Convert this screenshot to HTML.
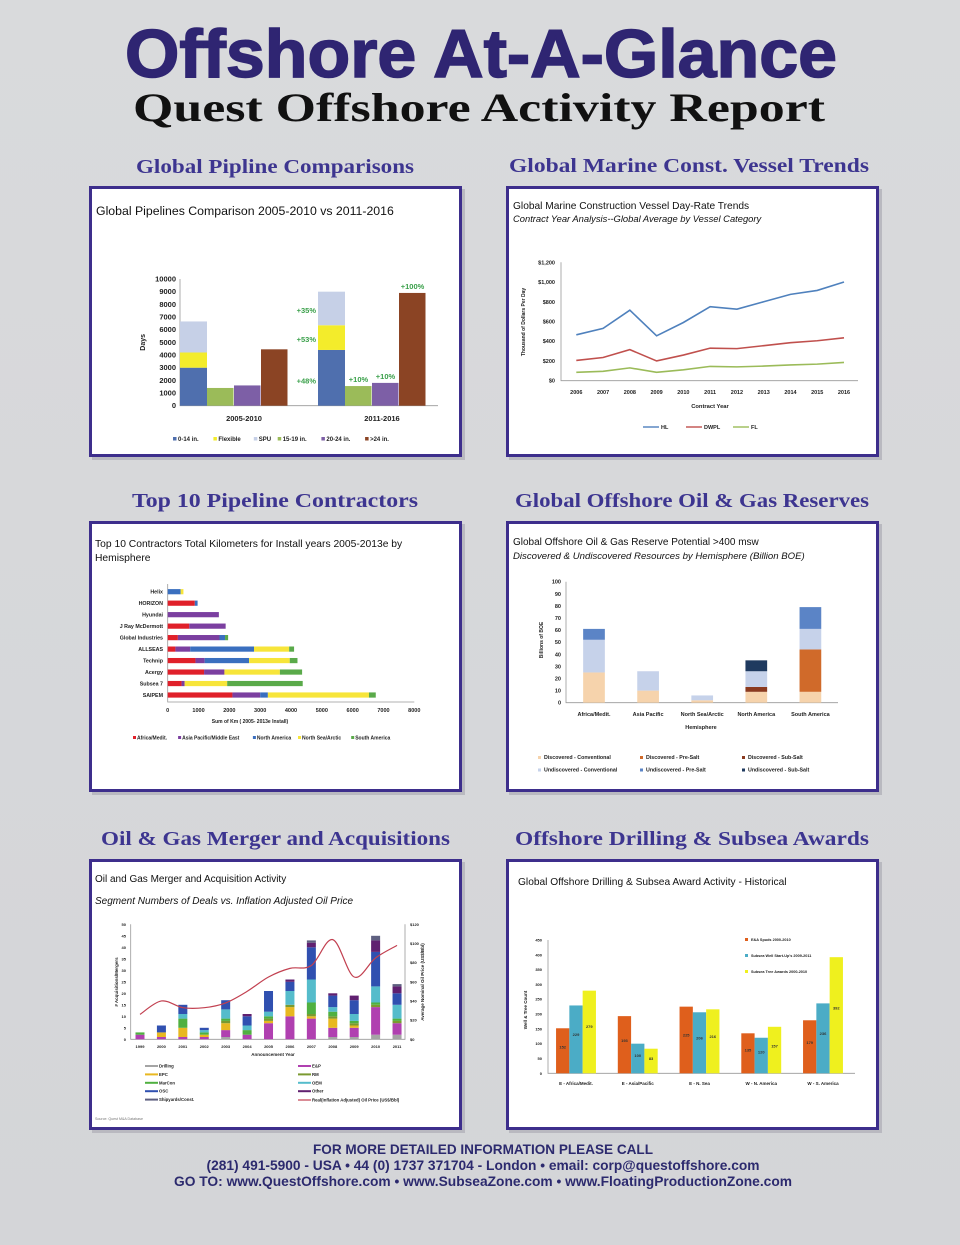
<!DOCTYPE html>
<html><head><meta charset="utf-8"><title>Offshore At-A-Glance</title>
<style>
html,body{margin:0;padding:0;background:#d8d9db;}
svg{display:block;font-family:"Liberation Sans",sans-serif;}
</style></head>
<body>
<svg id="page" width="960" height="1245" viewBox="0 0 960 1245">
<defs>
<linearGradient id="bg" x1="0" y1="0" x2="0" y2="1"><stop offset="0" stop-color="#d9dadc"/><stop offset="1" stop-color="#d4d5d8"/></linearGradient>
</defs>
<rect x="0" y="0" width="960" height="1245" fill="url(#bg)"/>
<text x="481" y="77" text-anchor="middle" font-family="Liberation Sans" font-weight="bold" font-size="68" fill="#2f2572" textLength="712" lengthAdjust="spacingAndGlyphs" stroke="#2f2572" stroke-width="1.5">Offshore At-A-Glance</text>
<text x="479" y="121" text-anchor="middle" font-family="Liberation Serif" font-weight="bold" font-size="40" fill="#111" textLength="692" lengthAdjust="spacingAndGlyphs">Quest Offshore Activity Report</text>

<g font-family="Liberation Serif" font-weight="bold" font-size="20" fill="#3d3590" lengthAdjust="spacingAndGlyphs">
<text x="136" y="173" textLength="278" lengthAdjust="spacingAndGlyphs">Global Pipline Comparisons</text>
<text x="509" y="172" textLength="360" lengthAdjust="spacingAndGlyphs">Global Marine Const. Vessel Trends</text>
<text x="132" y="507" textLength="286" lengthAdjust="spacingAndGlyphs">Top 10 Pipeline Contractors</text>
<text x="515" y="507" textLength="354" lengthAdjust="spacingAndGlyphs">Global Offshore Oil &amp; Gas Reserves</text>
<text x="101" y="845" textLength="349" lengthAdjust="spacingAndGlyphs">Oil &amp; Gas Merger and Acquisitions</text>
<text x="515" y="845" textLength="354" lengthAdjust="spacingAndGlyphs">Offshore Drilling &amp; Subsea Awards</text>
</g>

<g id="panels"></g>
<g id="charts"></g>

<g font-family="Liberation Sans" font-weight="bold" fill="#2c2a6e" text-anchor="middle">
<text x="483" y="1154" font-size="14" textLength="340" lengthAdjust="spacingAndGlyphs">FOR MORE DETAILED INFORMATION PLEASE CALL</text>
<text x="483" y="1170" font-size="14" textLength="553" lengthAdjust="spacingAndGlyphs">(281) 491-5900 - USA  •  44 (0) 1737 371704 - London   •  email: corp@questoffshore.com</text>
<text x="483" y="1186" font-size="14" textLength="618" lengthAdjust="spacingAndGlyphs">GO TO:  www.QuestOffshore.com •  www.SubseaZone.com  •  www.FloatingProductionZone.com</text>
</g>
</svg>
<script>
const NS='http://www.w3.org/2000/svg';
function mk(tag,attrs,parent,text){const e=document.createElementNS(NS,tag);for(const k in attrs)e.setAttribute(k,attrs[k]);if(text!==undefined)e.textContent=text;parent.appendChild(e);return e;}
const panelsG=document.getElementById('panels');
const C=document.getElementById('charts');

/* ---------- panels ---------- */
const panelNames=['pipeline-panel','vessel-panel','contractors-panel','reserves-panel','mergers-panel','awards-panel'];
const panelX=[89,506,89,506,89,506];
const panelY=[186,186,521,521,859,859];
for(let i=0;i<6;i++){
  const sh=mk('rect',{x:panelX[i]+3,y:panelY[i]+3,width:373,height:271,fill:'#b9b9c0'},panelsG);
  
  
  const r=mk('rect',{x:panelX[i]+1.5,y:panelY[i]+1.5,width:370,height:268,fill:'#fff',stroke:'#3d2e8c','stroke-width':3},panelsG);
  
  
}
function txt(parent,x,y,s,size,opts){const a={x:x,y:y,'font-size':size,fill:'#222'};if(opts)for(const k in opts)a[k]=opts[k];return mk('text',a,parent,s);}

/* ---------- Chart 1: pipelines ---------- */
const pipeGroups=['2005-2010','2011-2016'];
const pipeSmall=[3000,4400];
const pipeFlex=[1200,1950];
const pipeSPU=[2450,2650];
const pipe1519=[1400,1550];
const pipe2024=[1600,1800];
const pipeOver24=[4450,8900];
const pipeTicks=[0,1000,2000,3000,4000,5000,6000,7000,8000,9000,10000];
const pipeGrowthStack=['+48%','+53%','+35%'];
const pipeGrowthBars=['+10%','+10%','+100%'];
const pipeLegend=['0-14 in.','Flexible','SPU','15-19 in.','20-24 in.','>24 in.'];
(function(){
  const g=mk('g',{},C);
  
  
  const y=v=>405.7-v*126.7/10000;
  const gx=i=>180+i*138;
  const bw=27;
  const cols=['#4f6fae','#f3ec2b','#c6d0e7','#9bbb59','#7d5fa6','#8b4424'];
  const t=txt(g,96,215,'Global Pipelines Comparison 2005-2010 vs 2011-2016',12.3,{fill:'#111'});
  
  
  pipeTicks.forEach(v=>{
    const l=txt(g,176,y(v)+2.5,String(v),7.5,{'text-anchor':'end','font-weight':'bold'});
    
    
  });
  const ax=mk('path',{d:`M180 ${y(10000)} V${y(0)} H438`,stroke:'#999',fill:'none','stroke-width':0.8},g);
  
  
  const yt=txt(g,0,0,'Days',7,{'font-weight':'bold',transform:`translate(145,${y(5000)}) rotate(-90)`,'text-anchor':'middle'});
  
  
  const stacks=[pipeSmall,pipeFlex,pipeSPU];
  pipeGroups.forEach((name,i)=>{
    let base=0;
    stacks.forEach((s,k)=>{
      const r=mk('rect',{x:gx(i),y:y(base+s[i]),width:bw,height:y(base)-y(base+s[i]),fill:cols[k]},g);
      
      
      if(i===1){
        const lb=txt(g,gx(i)-2,y(base+s[i]*0.45)+3,pipeGrowthStack[k],7.5,{'text-anchor':'end','font-weight':'bold',fill:'#3aa04a'});
        
        
      }
      base+=s[i];
    });
    [pipe1519,pipe2024,pipeOver24].forEach((s,k)=>{
      const bx=gx(i)+bw*(k+1);
      const r=mk('rect',{x:bx,y:y(s[i]),width:bw-0.5,height:y(0)-y(s[i]),fill:cols[k+3]},g);
      
      
      if(i===1){
        const lb=txt(g,bx+bw/2,y(s[i])-4,pipeGrowthBars[k],7.5,{'text-anchor':'middle','font-weight':'bold',fill:'#3aa04a'});
        
        
      }
    });
    const xl=txt(g,gx(i)+64,421,name,7.5,{'text-anchor':'middle','font-weight':'bold'});
    
    
  });
  let lx=173;
  pipeLegend.forEach((n,k)=>{
    const s=mk('rect',{x:lx,y:437,width:3.5,height:3.5,fill:cols[k]},g);
    
    
    const l=txt(g,lx+5,441,n,6,{'font-weight':'bold'});
    
    
    lx+=n.length*3.3+14;
  });
})();

/* ---------- Chart 2: vessel day-rates ---------- */
const vesselYears=['2006','2007','2008','2009','2010','2011','2012','2013','2014','2015','2016'];
const vesselHL=[465,530,715,455,590,750,725,800,875,915,1000];
const vesselDWPL=[205,235,315,200,260,330,325,355,385,405,435];
const vesselFL=[85,95,130,85,110,145,140,148,160,168,185];
const vesselTicks=[0,200,400,600,800,1000,1200];
const vesselTickLabels=['$0','$200','$400','$600','$800','$1,000','$1,200'];
(function(){
  const g=mk('g',{},C);
  
  
  const y=v=>380.7-v*118.4/1200;
  const x=i=>576.3+i*26.77;
  const t=txt(g,513,209,'Global Marine Construction Vessel Day-Rate Trends',10.2,{fill:'#111'});
  
  
  const t2=txt(g,513,222,'Contract Year  Analysis--Global Average by Vessel Category',9.4,{'font-style':'italic',fill:'#111'});
  
  
  const ax=mk('path',{d:`M561 ${y(1200)} V${y(0)} H858`,stroke:'#999',fill:'none','stroke-width':0.8},g);
  
  
  vesselTicks.forEach((v,i)=>{
    const l=txt(g,555,y(v)+2,vesselTickLabels[i],5.5,{'text-anchor':'end','font-weight':'bold'});
    
    
  });
  vesselYears.forEach((yr,i)=>{
    const l=txt(g,x(i),394,yr,5.5,{'text-anchor':'middle','font-weight':'bold'});
    
    
  });
  const xt=txt(g,710,408,'Contract Year',5.8,{'text-anchor':'middle','font-weight':'bold'});
  
  
  const yt=txt(g,0,0,'Thousand of Dollars Per Day',5,{'font-weight':'bold','text-anchor':'middle',transform:'translate(525,322) rotate(-90)'});
  
  
  const series=[[vesselHL,'#4f81bd','HL'],[vesselDWPL,'#c0504d','DWPL'],[vesselFL,'#9bbb59','FL']];
  const lgx=[643,686,733];
  series.forEach((s,k)=>{
    const p=mk('polyline',{points:s[0].map((v,i)=>x(i)+','+y(v)).join(' '),fill:'none',stroke:s[1],'stroke-width':1.6},g);
    
    
    const ll=mk('line',{x1:lgx[k],x2:lgx[k]+16,y1:427,y2:427,stroke:s[1],'stroke-width':1.4},g);
    
    
    const lt=txt(g,lgx[k]+18,429,s[2],5.5,{'font-weight':'bold'});
    
    
  });
})();

/* ---------- Chart 3: top contractors ---------- */
const contractors=['Helix','HORIZON','Hyundai','J Ray McDermott','Global Industries','ALLSEAS','Technip','Acergy','Subsea 7','SAIPEM'];
const kmAfrica=[0,880,0,700,330,250,900,1180,450,2100];
const kmAsiaPac=[0,0,1660,1180,1350,480,300,660,100,900];
const kmNorthAm=[420,90,0,0,180,2070,1440,0,0,250];
const kmNorthSea=[90,0,0,0,0,1140,1320,1800,1380,3280];
const kmSouthAm=[0,0,0,0,100,160,250,720,2450,220];
const kmTicks=[0,1000,2000,3000,4000,5000,6000,7000,8000];
const kmLegend=['Africa/Medit.','Asia Pacific/Middle East','North America','North Sea/Arctic','South America'];
(function(){
  const g=mk('g',{},C);
  
  
  const x=v=>167.7+v*246.6/8000;
  const y=i=>591.7+i*11.48;
  const cols=['#e0202a','#7b3fa0','#3a6fbf','#f7e53a','#5aaa4a'];
  const t=txt(g,95,547,'Top 10 Contractors Total Kilometers for Install years 2005-2013e by',10.3,{fill:'#111'});
  
  
  const t2=txt(g,95,561,'Hemisphere',10.3,{fill:'#111'});
  
  
  const ax=mk('path',{d:`M${x(0)} 584 V702 H${x(8000)}`,stroke:'#999',fill:'none','stroke-width':0.8},g);
  
  
  kmTicks.forEach(v=>{
    const l=txt(g,x(v),712,String(v),5.5,{'text-anchor':'middle','font-weight':'bold'});
    
    
  });
  const series=[kmAfrica,kmAsiaPac,kmNorthAm,kmNorthSea,kmSouthAm];
  contractors.forEach((n,i)=>{
    const l=txt(g,163,y(i)+2,n,5.3,{'text-anchor':'end','font-weight':'bold'});
    
    
    let base=0;
    series.forEach((s,k)=>{
      if(!s[i])return;
      const r=mk('rect',{x:x(base),y:y(i)-2.6,width:x(base+s[i])-x(base),height:5.2,fill:cols[k]},g);
      
      
      base+=s[i];
    });
  });
  const xt=txt(g,250,723,'Sum of Km ( 2005- 2013e Install)',5,{'text-anchor':'middle','font-weight':'bold'});
  
  
  let lx=133;
  kmLegend.forEach((n,k)=>{
    const s=mk('rect',{x:lx,y:736,width:3,height:3,fill:cols[k]},g);
    
    
    const l=txt(g,lx+4,739.5,n,5,{'font-weight':'bold'});
    
    
    lx+=n.length*2.7+10;
  });
})();

/* ---------- Chart 4: reserves ---------- */
const resRegions=['Africa/Medit.','Asia Pacific','North Sea/Arctic','North America','South America'];
const resDiscConv=[25,10,2,9,9];
const resDiscPre=[0,0,0,0,35];
const resDiscSub=[0,0,0,4,0];
const resUndiscConv=[27,16,4,13,17];
const resUndiscPre=[9,0,0,0,18];
const resUndiscSub=[0,0,0,9,0];
const resTicks=[0,10,20,30,40,50,60,70,80,90,100];
const resLegend=['Discovered - Conventional','Discovered - Pre-Salt','Discovered - Sub-Salt','Undiscovered - Conventional','Undiscovered - Pre-Salt','Undiscovered - Sub-Salt'];
(function(){
  const g=mk('g',{},C);
  
  
  const y=v=>702.7-v*121/100;
  const x=i=>594+i*54.1;
  const bw=21.7;
  const cols=['#f6d3ac','#d06a2a','#8b3a1f','#c6d2ea','#5b84c6','#1f3a5f'];
  const t=txt(g,513,545,'Global Offshore Oil & Gas Reserve Potential >400 msw',10,{fill:'#111'});
  
  
  const t2=txt(g,513,559,'Discovered & Undiscovered Resources by Hemisphere (Billion BOE)',9.6,{'font-style':'italic',fill:'#111'});
  
  
  const ax=mk('path',{d:`M566 ${y(100)} V${y(0)} H838`,stroke:'#999',fill:'none','stroke-width':0.8},g);
  
  
  resTicks.forEach(v=>{
    const l=txt(g,561,y(v)+2,String(v),5.5,{'text-anchor':'end','font-weight':'bold'});
    
    
  });
  const yt=txt(g,0,0,'Billions of BOE',5,{'font-weight':'bold','text-anchor':'middle',transform:'translate(543,640) rotate(-90)'});
  
  
  const series=[resDiscConv,resDiscPre,resDiscSub,resUndiscConv,resUndiscPre,resUndiscSub];
  resRegions.forEach((n,i)=>{
    let base=0;
    series.forEach((s,k)=>{
      if(!s[i])return;
      const r=mk('rect',{x:x(i)-bw/2,y:y(base+s[i]),width:bw,height:y(base)-y(base+s[i]),fill:cols[k]},g);
      
      
      base+=s[i];
    });
    const l=txt(g,x(i),716,n,5.5,{'text-anchor':'middle','font-weight':'bold'});
    
    
  });
  const xt=txt(g,701,729,'Hemisphere',5.5,{'text-anchor':'middle','font-weight':'bold'});
  
  
  resLegend.forEach((n,k)=>{
    const lx=538+(k%3)*102, ly=759+Math.floor(k/3)*12.5;
    const s=mk('rect',{x:lx,y:ly-3,width:3,height:3,fill:cols[k]},g);
    
    
    const l=txt(g,lx+6,ly,n,5.3,{'font-weight':'bold'});
    
    
  });
})();

/* ---------- Chart 5: M&A ---------- */
const maYears=['1999','2000','2001','2002','2003','2004','2005','2006','2007','2008','2009','2010','2011'];
const maDrilling=[0,0,0,0,1,0,0,0,0,1,1,2,2];
const maEP=[2,1,1,1,3,2,7,10,9,4,4,12,5];
const maEPC=[0,2,4,1,3,0,1,4,1,4,1,0,0];
const maRM=[0,0,0,0,1,0,1,1,1,1,1,1,1];
const maMarCon=[1,0,4,1,1,2,1,0,5,2,1,1,1];
const maOEM=[0,0,2,1,4,2,2,6,10,2,3,7,6];
const maOSC=[0,3,4,1,4,4,9,4,14,5,6,15,5];
const maOther=[0,0,0,0,0,1,0,1,2,1,2,5,3];
const maShipyards=[0,0,0,0,0,0,0,0,1,0,0,2,1];
const maOilPrice=[26,40,33,33,38,50,65,74,77,104,65,85,98];
const maLeftTicks=[0,5,10,15,20,25,30,35,40,45,50];
const maRightTicks=[0,20,40,60,80,100,120];
const maSeriesNames=['Drilling','E&P','EPC','RM','MarCon','OEM','OSC','Other','Shipyards/Const.'];
(function(){
  const g=mk('g',{},C);
  
  
  const y=v=>1039.3-v*115/50;
  const yr=v=>1039.3-v*115/120;
  const x=i=>140+i*21.42;
  const bw=9;
  const cols=['#a4a4a4','#b040b0','#e8b820','#7a9a30','#50b040','#55bccb','#3050b0','#602070','#5f6080'];
  const t=txt(g,95,882,'Oil and Gas Merger and Acquisition Activity',10,{fill:'#111'});
  
  
  const t2=txt(g,95,904,'Segment Numbers of Deals vs. Inflation Adjusted Oil Price',10,{'font-style':'italic',fill:'#111'});
  
  
  const ax=mk('path',{d:`M130.7 ${y(50)} V${y(0)} H405 V${y(50)}`,stroke:'#999',fill:'none','stroke-width':0.8},g);
  
  
  maLeftTicks.forEach(v=>{
    const l=txt(g,126,y(v)+1.5,String(v),4,{'text-anchor':'end','font-weight':'bold'});
    
    
  });
  maRightTicks.forEach(v=>{
    const l=txt(g,410,yr(v)+1.5,'$'+v,4,{'font-weight':'bold'});
    
    
  });
  const series=[maDrilling,maEP,maEPC,maRM,maMarCon,maOEM,maOSC,maOther,maShipyards];
  maYears.forEach((n,i)=>{
    let base=0;
    series.forEach((s,k)=>{
      if(!s[i])return;
      const r=mk('rect',{x:x(i)-bw/2,y:y(base+s[i]),width:bw,height:y(base)-y(base+s[i]),fill:cols[k]},g);
      
      
      base+=s[i];
    });
    const l=txt(g,x(i),1048,n,4,{'text-anchor':'middle','font-weight':'bold'});
    
    
  });
  const pts=maOilPrice.map((v,i)=>[x(i),yr(v)]);
  let d='M'+pts[0][0]+' '+pts[0][1];
  for(let i=0;i<pts.length-1;i++){
    const p0=pts[Math.max(0,i-1)],p1=pts[i],p2=pts[i+1],p3=pts[Math.min(pts.length-1,i+2)];
    const c1=[p1[0]+(p2[0]-p0[0])/6,p1[1]+(p2[1]-p0[1])/6];
    const c2=[p2[0]-(p3[0]-p1[0])/6,p2[1]-(p3[1]-p1[1])/6];
    d+=` C${c1[0]} ${c1[1]} ${c2[0]} ${c2[1]} ${p2[0]} ${p2[1]}`;
  }
  const line=mk('path',{d:d,fill:'none',stroke:'#c24050','stroke-width':1.2},g);
  
  
  const xt=txt(g,273,1056,'Announcement Year',4.5,{'text-anchor':'middle','font-weight':'bold'});
  
  
  const yt=txt(g,0,0,'# Acquisitions/Mergers',4.5,{'font-weight':'bold','text-anchor':'middle',transform:'translate(118,982) rotate(-90)'});
  
  
  const yt2=txt(g,0,0,'Average Nominal Oil Price (US$/Bbl)',4.5,{'font-weight':'bold','text-anchor':'middle',transform:'translate(424,982) rotate(-90)'});
  
  
  const legOrder=[0,1,2,3,4,5,6,7,8];
  legOrder.forEach((k,j)=>{
    const lx=(j%2===0)?145:298, ly=1066+Math.floor(j/2)*8.4;
    const sw=mk('line',{x1:lx,x2:lx+13,y1:ly,y2:ly,stroke:cols[k],'stroke-width':2},g);
    
    
    const l=txt(g,lx+14,ly+1.5,maSeriesNames[k],4.3,{'font-weight':'bold'});
    
    
  });
  const pl=mk('line',{x1:298,x2:311,y1:1100,y2:1100,stroke:'#c24050','stroke-width':1.2},g);
  
  
  const plt=txt(g,312,1101.5,'Real(Inflation Adjusted) Oil Price (US$/Bbl)',4.3,{'font-weight':'bold'});
  
  
  const src=txt(g,95,1120,'Source: Quest M&A Database',3.6,{fill:'#777'});
  
  
})();

/* ---------- Chart 6: drilling & subsea awards ---------- */
const awRegions=['E - Africa/Medit.','E - Asia/Pacific','E - N. Sea','W - N. America','W - S. America'];
const awEA=[152,193,225,135,179];
const awWells=[229,100,206,120,236];
const awTrees=[279,83,216,157,392];
const awTicks=[0,50,100,150,200,250,300,350,400,450];
const awLegend=['E&A Spuds 2000-2010',"Subsea Well Start-Up's 2009-2011",'Subsea Tree Awards 2000-2010'];
(function(){
  const g=mk('g',{},C);
  
  
  const y=v=>1073.3-v*133.3/450;
  const xc=i=>576+i*61.75;
  const bw=13.3;
  const cols=['#df5f1c','#4bacc6','#eff01e'];
  const t=txt(g,518,885,'Global Offshore Drilling & Subsea Award Activity - Historical',10.2,{fill:'#111'});
  
  
  const ax=mk('path',{d:`M548 ${y(450)} V${y(0)} H855`,stroke:'#999',fill:'none','stroke-width':0.8},g);
  
  
  awTicks.forEach(v=>{
    const l=txt(g,542,y(v)+1.5,String(v),4,{'text-anchor':'end','font-weight':'bold'});
    
    
  });
  const yt=txt(g,0,0,'Well & Tree Count',4.5,{'font-weight':'bold','text-anchor':'middle',transform:'translate(527,1010) rotate(-90)'});
  
  
  const series=[awEA,awWells,awTrees];
  awRegions.forEach((n,i)=>{
    series.forEach((s,k)=>{
      const bx=xc(i)+(k-1.5)*bw;
      const r=mk('rect',{x:bx,y:y(s[i]),width:bw,height:y(0)-y(s[i]),fill:cols[k]},g);
      
      
      const v=txt(g,bx+bw/2,y(s[i]*0.55),String(s[i]),4,{'text-anchor':'middle','font-weight':'bold',fill:'#333'});
      
      
    });
    const l=txt(g,xc(i),1085,n,4.5,{'text-anchor':'middle','font-weight':'bold'});
    
    
  });
  awLegend.forEach((n,k)=>{
    const ly=940+k*16;
    const s=mk('rect',{x:745,y:ly-2,width:3,height:3,fill:cols[k]},g);
    
    
    const l=txt(g,751,ly+1,n,3.8,{'font-weight':'bold'});
    
    
  });
})();
</script>
</body></html>
